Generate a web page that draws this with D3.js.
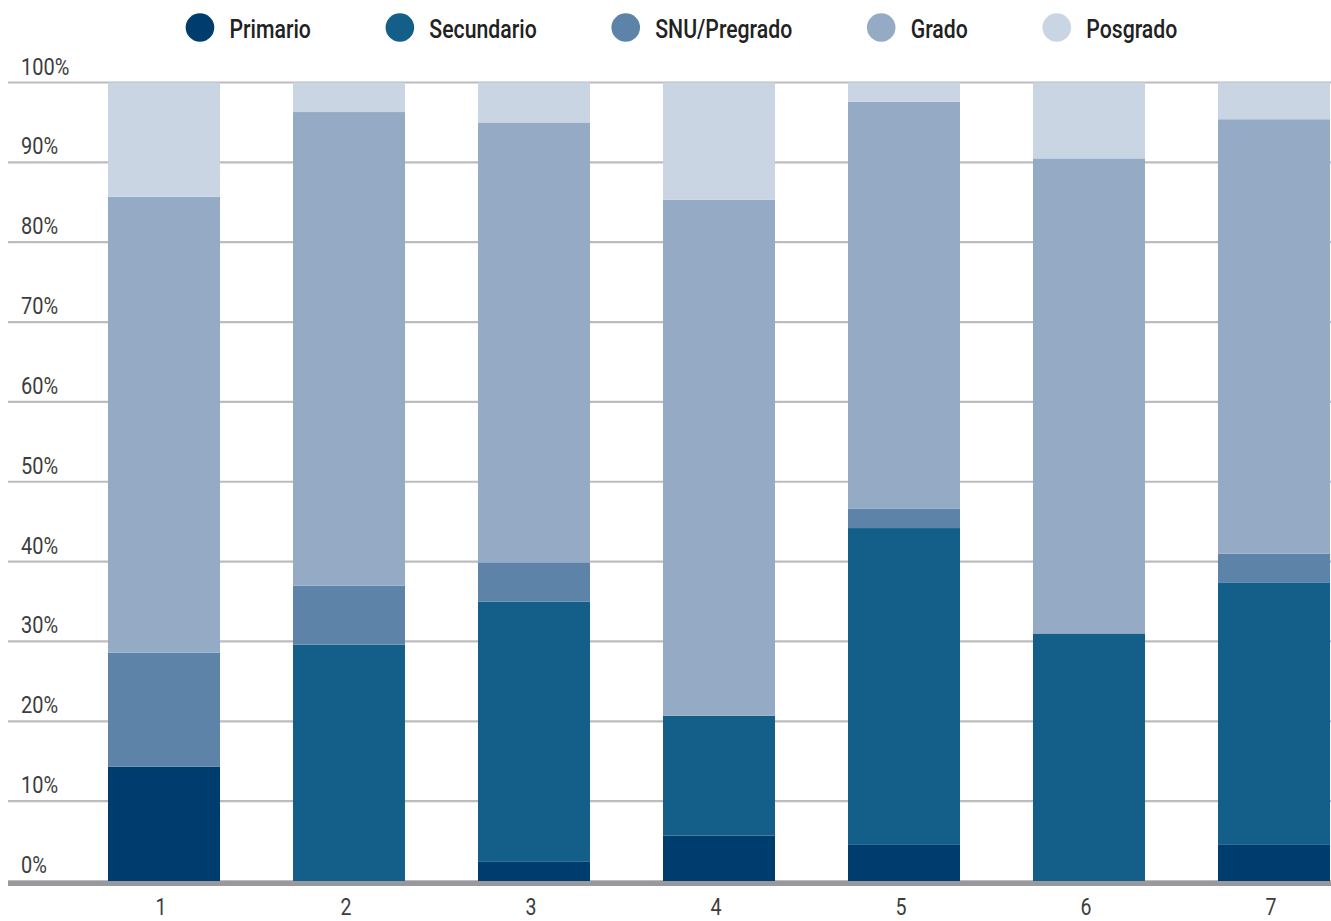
<!DOCTYPE html>
<html>
<head>
<meta charset="utf-8">
<script src="https://cdn.jsdelivr.net/npm/d3@7"></script>
<style>
  html, body { margin: 0; padding: 0; background: #fff; }
  svg { display: block; }
  text { font-family: "Roboto", "Noto Sans", sans-serif; }
</style>
</head>
<body>
<svg id="chart" width="1331" height="921"></svg>
<script>
// ---- Data ----
const categories = ["1", "2", "3", "4", "5", "6", "7"];
const seriesNames = ["Primario", "Secundario", "SNU/Pregrado", "Grado", "Posgrado"];
const primario    = [14.3, 0,    2.4,  5.7,  4.6,  0,    4.6];
const secundario  = [0,    29.6, 32.6, 15.0, 39.6, 31.0, 32.8];
const snuPregrado = [14.3, 7.4,  4.9,  0,    2.4,  0,    3.6];
const grado       = [57.1, 59.3, 55.1, 64.6, 51.0, 59.5, 54.4];
const posgrado    = [14.3, 3.7,  5.0,  14.7, 2.4,  9.5,  4.6];
const yTicks = [0, 10, 20, 30, 40, 50, 60, 70, 80, 90, 100];
const yTickLabels = ["0%", "10%", "20%", "30%", "40%", "50%", "60%", "70%", "80%", "90%", "100%"];
const colors = ["#003d6f", "#135f8a", "#5d83a8", "#95abc5", "#cad5e3"];

const rows = categories.map((c, i) => ({
  cat: c,
  "Primario": primario[i],
  "Secundario": secundario[i],
  "SNU/Pregrado": snuPregrado[i],
  "Grado": grado[i],
  "Posgrado": posgrado[i]
}));

const SX = 0.85; // horizontal condensing of text

const svg = d3.select("#chart");

const x = d3.scaleBand()
  .domain(categories)
  .range([71.5, 1366.5])
  .paddingInner(73 / 185)
  .paddingOuter(36.5 / 185);

const y = d3.scaleLinear().domain([0, 100]).range([881, 82.5]);
const color = d3.scaleOrdinal().domain(seriesNames).range(colors);

// gridlines
svg.append("g").selectAll("line")
  .data(yTicks)
  .join("line")
  .attr("x1", 8).attr("x2", 1331)
  .attr("y1", d => y(d)).attr("y2", d => y(d))
  .attr("stroke", "#bcbcc0")
  .attr("stroke-width", 2.2);

// y labels
svg.append("g").selectAll("text")
  .data(yTicks)
  .join("text")
  .attr("transform", d => `translate(21,${y(d) - 8}) scale(${SX},1)`)
  .attr("fill", "#3d3d3d")
  .attr("font-size", 23.5)
  .text((d, i) => yTickLabels[i]);

// stacked bars
const stacked = d3.stack().keys(seriesNames)(rows);
svg.append("g").selectAll("g")
  .data(stacked)
  .join("g")
  .attr("fill", d => color(d.key))
  .selectAll("rect")
  .data(d => d)
  .join("rect")
  .attr("x", d => x(d.data.cat))
  .attr("width", x.bandwidth())
  .attr("y", d => y(d[1]))
  .attr("height", d => Math.max(0, y(d[0]) - y(d[1])));

// baseline
svg.append("rect")
  .attr("x", 8).attr("width", 1331 - 8)
  .attr("y", y(0)).attr("height", 5)
  .attr("fill", "#99999d");

// x axis labels
svg.append("g").selectAll("text")
  .data(categories)
  .join("text")
  .attr("transform", d => `translate(${x(d) + x.bandwidth() / 2 - 3},915) scale(${SX},1)`)
  .attr("text-anchor", "middle")
  .attr("fill", "#3d3d3d")
  .attr("font-size", 23)
  .text(d => d);

// legend
const legend = svg.append("g");
const items = legend.selectAll("g")
  .data(seriesNames)
  .join("g");
items.append("circle")
  .attr("cx", 0).attr("cy", 27.5).attr("r", 14.3)
  .attr("fill", d => color(d));
items.append("text")
  .attr("transform", `translate(29.5,37.5) scale(${SX},1)`)
  .attr("fill", "#222")
  .attr("font-size", 25)
  .attr("font-weight", 500)
  .text(d => d);

let cx = 0;
const positions = [];
items.each(function() {
  const w = d3.select(this).select("text").node().getComputedTextLength() * SX;
  positions.push(cx);
  cx += 29.5 + w + 89;
});
const totalEnd = cx - 89;
const totalWidth = totalEnd + 14.3;
const startLeft = 681.5 - totalWidth / 2;
items.attr("transform", (d, i) => `translate(${startLeft + 14.3 + positions[i]},0)`);
</script>
</body>
</html>
